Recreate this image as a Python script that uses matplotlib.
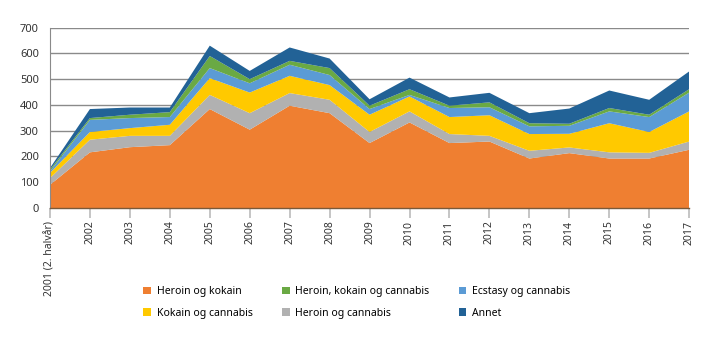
import matplotlib.pyplot as plt
from matplotlib.patches import Patch

plt.rcParams['font.family'] = ['Noto Sans', 'DejaVu Sans']

years = list(range(2001, 2018))
year_labels = ["2001 (2. halvår)"] + [str(y) for y in years[1:]]

# bottom to top in the stack
heroin_kokain = [90, 216, 236, 244, 384, 304, 397, 368, 252, 332, 252, 258, 192, 213, 192, 192, 226]
heroin_cannabis = [26, 49, 44, 36, 55, 64, 49, 52, 43, 43, 35, 22, 30, 22, 24, 22, 32]
kokain_cannabis = [20, 30, 30, 43, 65, 80, 67, 57, 67, 58, 66, 80, 65, 53, 113, 81, 117]
ecstasy_cannabis = [6, 47, 39, 30, 39, 36, 43, 39, 22, 6, 35, 31, 30, 31, 46, 58, 73]
heroin_kokain_cannabis = [7, 7, 13, 19, 47, 16, 15, 27, 13, 22, 9, 19, 12, 8, 13, 9, 13]
annet = [6, 35, 28, 18, 40, 32, 52, 37, 25, 45, 32, 37, 39, 59, 68, 58, 69]

c_orange = "#ef7f31"
c_grey = "#b1b1b1"
c_yellow = "#ffc900"
c_lblue = "#5b9bd5"
c_green = "#6aa944"
c_dblue = "#226296"

fig = plt.figure(figsize=(7.19, 3.41), dpi=100)
ax = fig.add_axes([0.0695, 0.39, 0.889, 0.529])

ax.stackplot(years, heroin_kokain, heroin_cannabis, kokain_cannabis,
             ecstasy_cannabis, heroin_kokain_cannabis, annet,
             colors=[c_orange, c_grey, c_yellow, c_lblue, c_green, c_dblue],
             linewidth=0, zorder=2)

ax.set_xlim(2001, 2017)
ax.set_ylim(0, 700)
ax.set_yticks(range(0, 701, 100))
ax.yaxis.grid(True, color="#8a8a8a", linewidth=1.0, zorder=0)
ax.set_axisbelow(True)
ax.tick_params(axis='y', length=0, labelsize=8, pad=8, labelcolor="#333333")

ax.set_xticks(years)
ax.set_xticklabels(year_labels, rotation=90, va='top', ha='center')
ax.tick_params(axis='x', direction='out', length=7, width=1.2, color="#bbbbbb",
               labelsize=7.5, pad=2, labelcolor="#333333")

for s in ['top', 'right']:
    ax.spines[s].set_visible(False)
ax.spines['left'].set_color("#8a8a8a")
ax.spines['left'].set_linewidth(0.8)
ax.spines['bottom'].set_color("#7a5a3a")
ax.spines['bottom'].set_linewidth(1.0)
ax.spines['bottom'].set_zorder(3)

labels = ["Heroin og kokain", "Kokain og cannabis", "Heroin, kokain og cannabis",
          "Heroin og cannabis", "Ecstasy og cannabis", "Annet"]
cols = [c_orange, c_yellow, c_green, c_grey, c_lblue, c_dblue]
handles = [Patch(facecolor=c, edgecolor='none') for c in cols]
fig.legend(handles, labels, ncol=3, loc='upper left', bbox_to_anchor=(0.186, 0.188),
           frameon=False, fontsize=7.5, handlelength=0.75, handleheight=0.75,
           handletextpad=0.55, columnspacing=2.8, labelspacing=1.0)

fig.savefig("out.png", dpi=100)
